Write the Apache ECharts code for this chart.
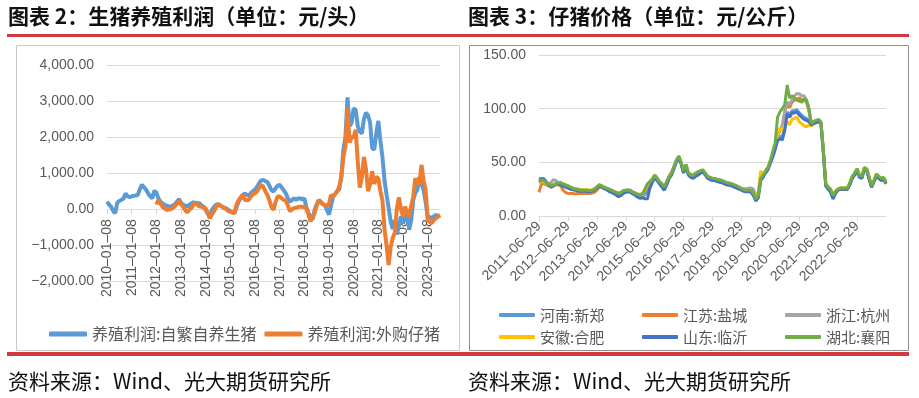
<!DOCTYPE html>
<html>
<head>
<meta charset="utf-8">
<title>生猪养殖利润 / 仔猪价格</title>
<script src="https://cdn.jsdelivr.net/npm/echarts@6/dist/echarts.min.js"></script>
<style>
  * { margin: 0; padding: 0; }
  html, body { width: 919px; height: 398px; background: #fff; overflow: hidden; }
  #main { width: 919px; height: 398px; }
</style>
</head>
<body>
<div id="main"></div>
<script>
// ---- 图表2：生猪养殖利润（元/头），月度 2010-01 ~ 2023-07 ----
var profitMonths = [];
for (var y = 2010; y <= 2023; y++) {
    for (var m = 1; m <= 12; m++) {
        if (y === 2023 && m > 7) break;
        profitMonths.push(y + '-' + (m < 10 ? '0' + m : m));
    }
}
var profitXTicks = ['2010-01-08', '2011-01-08', '2012-01-08', '2013-01-08', '2014-01-08', '2015-01-08', '2016-01-08',
    '2017-01-08', '2018-01-08', '2019-01-08', '2020-01-08', '2021-01-08', '2022-01-08', '2023-01-08'];
var profitYTicks = [-2000, -1000, 0, 1000, 2000, 3000, 4000];
var profitYLabels = ['−2,000.00', '−1,000.00', '0.00', '1,000.00', '2,000.00', '3,000.00', '4,000.00'];

// 养殖利润:自繁自养生猪
var selfBred = [
    210, 130, 70, -50, -110, 180, 230, 260, 290, 440, 360, 330,
    360, 370, 380, 400, 560, 680, 610, 540, 440, 360, 300, 510,
    460, 300, 210, 160, 120, 100, 80, 70, 100, 140, 200, 280,
    180, 120, 100, 70, 120, 160, 190, 180, 170, 160, 100, 70,
    -20, -120, -200, -30, 60, 120, 140, 100, 70, 40, 20, -20,
    -60, -90, -110, 50, 210, 300, 380, 440, 400, 370, 450, 500,
    540, 620, 720, 800, 810, 780, 760, 650, 530, 490, 580, 650,
    680, 600, 520, 440, 300, 200, 260, 300, 260, 300, 300, 270,
    300, 50, -100, -220, -290, -20, 120, 250, 200, 140, 120, -20,
    -150, 100, 350, 420, 500, 560, 900, 1650, 2000, 3100, 2300, 2400,
    2800, 2750, 2300, 2150, 2100, 2500, 2680, 2600, 2400, 1700, 1650, 2100,
    2450, 1900, 1450, 800, 400, 50, -350, -550, -300, -700, -450, -200,
    -390, -250, -110, -570, -300, 260, 450, 540, 900, 700, 540, 200,
    -200, -220, -250, -200, -160, -200, -180
];
// 养殖利润:外购仔猪（2012 年起）
var boughtPiglet = [
    null, null, null, null, null, null, null, null, null, null, null, null,
    null, null, null, null, null, null, null, null, null, null, null, null,
    130, 250, 160, 70, 20, -20, -10, 0, 40, 80, 150, 220,
    140, 70, -20, -90, -20, 30, 120, 180, 120, 80, 70, 40,
    20, -100, -250, -150, -60, 60, 140, 110, 70, 40, 0, -50,
    -70, -90, -110, 120, 250, 330, 400, 260, 250, 260, 350, 420,
    440, 490, 580, 670, 630, 500, 400, 250, 60, -20, 200, 350,
    350, 300, 260, 240, 100, -60, 0, 30, 40, 60, 70, 70,
    50, 30, -150, -340, -200, -110, 100, 260, 200, 140, 110, 80,
    160, 390, 360, 420, 490, 630, 900, 1460, 1750, 2800, 1850, 2000,
    2000, 2200, 1300, 600, 900, 1450, 1100, 500, 700, 1050, 700, 900,
    850, 500, 250, -550, -1000, -1550, -1050, -800, -650, 0, 330, 0,
    -200, 70, -100, -200, 100, 350, 860, 700, 720, 1230, 800, 540,
    -300, -350, -390, -300, -250, -200, -160
];

// ---- 图表3：仔猪价格（元/公斤），月度 2011-06 ~ 2023-06 ----
var priceMonths = [];
for (var y2 = 2011; y2 <= 2023; y2++) {
    for (var m2 = 1; m2 <= 12; m2++) {
        if ((y2 === 2011 && m2 < 6) || (y2 === 2023 && m2 > 6)) continue;
        priceMonths.push(y2 + '-' + (m2 < 10 ? '0' + m2 : m2));
    }
}
var priceXTicks = ['2011-06-29', '2012-06-29', '2013-06-29', '2014-06-29', '2015-06-29', '2016-06-29',
    '2017-06-29', '2018-06-29', '2019-06-29', '2020-06-29', '2021-06-29', '2022-06-29'];
var priceYTicks = [0, 50, 100, 150];
var priceYLabels = ['0.00', '50.00', '100.00', '150.00'];

var henan = [
    35, 35, 35, 32, 30, 28, 29,
    30, 30, 29.5, 28.5, 27.5, 26.5, 25.5, 25, 24.5, 24, 23.5, 23.5,
    23.5, 23.5, 23, 23.5, 24.5, 26.5, 28.5, 27.5, 26, 25, 24, 23,
    22, 20.5, 19.5, 20.5, 22, 23, 23, 22.5, 21, 20, 18.5, 17.5,
    18.5, 20, 24, 29, 32, 37, 34, 31, 28, 25, 30, 36,
    39, 45, 51, 55, 49, 41, 47, 39, 37, 36, 38, 39,
    41, 42, 39, 36, 35, 34, 34, 33, 32, 31.5, 30.5, 29.5,
    29, 28.5, 27.5, 26.5, 25.5, 24.5, 23.5, 23, 23, 22.5, 19.5, 14,
    18, 34, 37, 41, 44, 50, 56, 63, 72, 74, 74, 84,
    97, 94, 98, 98, 99, 96, 94, 92, 91, 89, 86, 87,
    88, 89, 87, 60, 28, 25, 23, 16, 21, 24, 25, 25,
    25, 25, 30, 36, 39, 43, 37, 36, 44, 43, 35, 27,
    32, 38, 36, 34, 35, 33
];
var jiangsu = [
    22, 30, 30, 29, 28, 27, 28,
    29, 29, 28, 24, 22, 21, 21, 21, 20.5, 21, 21, 21,
    21, 21, 21, 21.5, 22, 24, 27, 27, 26, 25, 25, 24,
    23, 22, 20, 21, 22.5, 23, 23, 22.5, 21, 20, 19, 18.5,
    20, 23, 28, 31, 33, 36, 34, 31, 28, 25, 30, 36,
    39, 45, 51, 54, 49, 41, 47, 39, 36, 36, 38, 40,
    41, 42, 39, 36, 35, 34, 34, 33, 32, 31, 30, 29,
    29, 28.5, 28, 27, 26, 25, 24, 23.5, 23.5, 23.5, 21, 17,
    20, 37, 38, 41, 44, 50, 58, 66, 75, 80, 82, 97,
    104, 101, 106, 108, 109, 110, 108, 109, 106, 98, 86, 87,
    88, 89, 87, 60, 29, 26, 24, 18, 22, 24, 25, 25,
    25, 25, 30, 36, 39, 43, 37, 36, 44, 43, 35, 27,
    32, 38, 36, 34, 35, 30
];
var zhejiang = [
    31, 32, 32, 31, 30, 31, 34,
    33, 31, 30, 29.5, 29, 28, 27, 26, 25.5, 25, 24.5, 24,
    24, 24, 23.5, 24, 25, 27, 29, 28, 27, 26, 25, 24,
    23, 22, 21, 22, 23.5, 24, 24.5, 24, 22.5, 21.5, 20.5, 20,
    21, 25, 30, 32, 35, 38, 36, 32, 30, 28, 32, 37,
    41, 46, 52, 55, 50, 42, 48, 40, 39, 38, 40, 41,
    42, 43, 40, 37, 36, 35, 35, 34, 33.5, 33, 32, 31,
    30.5, 30, 29, 28, 27, 26, 25.5, 25.5, 26, 26, 25, 19,
    21, 36, 38, 42, 45, 50, 56, 64, 74, 80, 85, 98,
    106, 104, 108, 112, 114, 114, 112, 112, 108, 100, 87, 88,
    89, 89, 87, 61, 29, 26, 24, 18.5, 22, 24, 25.5, 25.5,
    25.5, 25.5, 30, 36.5, 39.5, 43.5, 37.5, 36.5, 44.5, 43.5, 35.5, 27.5,
    32.5, 38.5, 36.5, 34.5, 35.5, 31
];
var anhui = [
    31, 32, 32, 30, 29, 28, 29,
    30, 31, 31, 30, 29, 28, 27, 26, 25, 25, 24.5, 24.5,
    24.5, 24.5, 24, 24.5, 25.5, 27, 29, 28, 27, 26, 25, 24,
    23, 22, 21, 21.5, 23, 23.5, 23.5, 23, 21.5, 20.5, 19.5, 19,
    20.5, 24, 29, 31.5, 34, 38, 35, 31, 29, 26, 31, 36,
    40, 45, 51, 55, 49, 41, 47, 39, 37, 37, 39, 40,
    41, 42, 39, 36, 35, 34, 34, 33, 32.5, 32, 31, 30,
    29.5, 29, 28, 27, 26, 24.5, 24, 23.5, 23.5, 23, 20, 16,
    22, 42, 39, 42, 45, 51, 57, 65, 76, 82, 80, 84,
    88, 85, 90, 91, 92, 88, 86, 84, 83, 85, 84, 86,
    87, 88, 86, 60, 31, 27, 25, 19, 23, 25, 26, 26,
    26, 26, 31, 37, 40, 44, 38, 37, 45, 44, 36, 28,
    33, 39, 37, 35, 36, 31
];
var shandong = [
    33, 34, 34, 31, 29, 27, 28,
    30, 30, 29, 28, 27, 26, 25, 24.5, 24, 23.5, 23, 23,
    23, 23, 22.5, 23, 24, 26, 28, 27, 25.5, 24.5, 23, 22,
    21, 19.5, 18, 19, 21, 22, 22.5, 22, 20.5, 19, 17.5, 16.5,
    17, 16, 16, 26, 31, 36, 33, 30, 27, 24, 29, 35,
    38, 44, 50, 55, 48, 40, 46, 38, 36, 35, 37, 38,
    40, 41, 38, 35, 34, 33, 33, 32, 31.5, 31, 30, 29,
    28.5, 28, 27, 26, 25, 24, 23, 22.5, 22.5, 22, 19, 14,
    17, 33, 36, 40, 43, 49, 55, 62, 70, 72, 71, 80,
    95, 92, 96, 96, 97, 94, 92, 90, 89, 88, 85, 86,
    87, 88, 86, 59, 28, 25, 22, 16, 21, 24, 25, 25,
    25, 25, 29, 35, 38, 42, 36, 35, 43, 42, 34, 27,
    32, 37, 35, 33, 34, 30
];
var hubei = [
    32, 33, 33, 31, 30, 28, 29,
    30, 31, 31, 30, 29, 28, 27, 26, 25, 25, 24, 24,
    24, 24, 23.5, 24, 25, 27, 29, 28, 27, 26, 25, 24,
    23, 22, 21, 22, 23.5, 24, 24, 23.5, 22, 21, 20, 19.5,
    21, 25, 30, 32, 34, 38, 35, 32, 30, 27, 32, 37,
    40, 46, 52, 56, 50, 42, 48, 40, 38, 38, 40, 41,
    42, 43, 40, 37, 36, 35, 35, 34, 33.5, 33, 32, 31,
    30.5, 30, 29, 28, 27, 25.5, 24.5, 24, 24, 24, 21, 16,
    19, 35, 38, 42, 45, 52, 60, 68, 92, 97, 100, 104,
    122, 110, 112, 110, 108, 107, 106, 109, 108, 100, 86, 88,
    89, 90, 88, 62, 30, 27, 25, 19, 23, 25, 26, 26,
    26, 26, 31, 37, 40, 44, 38, 37, 45, 44, 36, 28,
    33, 39, 37, 35, 36, 31
];

var cjk = 'Noto Sans CJK SC';
var num = 'Liberation Sans';
var axisGray = '#d9d9d9';
var labelGray = '#595959';
var red = '#d23a3f';

var chart = echarts.init(document.getElementById('main'));

function lineSeries(name, data, color, width, xi) {
    return {
        name: name, type: 'line', data: data,
        xAxisIndex: xi, yAxisIndex: xi,
        showSymbol: false, symbol: 'none', connectNulls: false,
        lineStyle: { color: color, width: width },
        itemStyle: { color: color }
    };
}

function priceLegend(left, names) {
    return {
        orient: 'vertical', left: left, top: 307, padding: 0,
        itemWidth: 36, itemHeight: 4, itemGap: 6, icon: 'roundRect',
        data: names,
        textStyle: { fontFamily: cjk, fontSize: 15, color: labelGray, lineHeight: 16 }
    };
}

chart.setOption({
    backgroundColor: '#fff',
    animation: false,
    title: [
        { text: '图表 2：生猪养殖利润（单位：元/头）', left: 8, top: 6, padding: 0,
          textStyle: { fontFamily: cjk, fontSize: 21, fontWeight: 'bold', color: '#111' } },
        { text: '图表 3：仔猪价格（单位：元/公斤）', left: 468, top: 6, padding: 0,
          textStyle: { fontFamily: cjk, fontSize: 21, fontWeight: 'bold', color: '#111' } },
        { text: '资料来源：Wind、光大期货研究所', left: 8, top: 371, padding: 0,
          textStyle: { fontFamily: cjk, fontSize: 21, fontWeight: 'normal', color: '#111' } },
        { text: '资料来源：Wind、光大期货研究所', left: 468, top: 371, padding: 0,
          textStyle: { fontFamily: cjk, fontSize: 21, fontWeight: 'normal', color: '#111' } }
    ],
    graphic: [
        { type: 'rect', silent: true, shape: { x: 7, y: 34, width: 902, height: 3 }, style: { fill: red } },
        { type: 'rect', silent: true, shape: { x: 7, y: 352, width: 902, height: 4 }, style: { fill: red } },
        { type: 'rect', silent: true, shape: { x: 16.5, y: 45.5, width: 443, height: 305 },
          style: { fill: 'none', stroke: '#c9c9c9', lineWidth: 1 } },
        { type: 'rect', silent: true, shape: { x: 469.5, y: 45.5, width: 439, height: 305 },
          style: { fill: 'none', stroke: '#8e8e8e', lineWidth: 1 } }
    ],
    legend: [
        {
            left: 49, top: 326, padding: 0, itemWidth: 38, itemHeight: 5, itemGap: 8, icon: 'roundRect',
            data: ['养殖利润:自繁自养生猪', '养殖利润:外购仔猪'],
            textStyle: { fontFamily: cjk, fontSize: 16, color: labelGray }
        },
        priceLegend(499, ['河南:新郑', '安徽:合肥']),
        priceLegend(642, ['江苏:盐城', '山东:临沂']),
        priceLegend(785, ['浙江:杭州', '湖北:襄阳'])
    ],
    grid: [
        { left: 107, top: 65, width: 333, height: 216.3 },
        { left: 539, top: 55, width: 347, height: 161 }
    ],
    xAxis: [
        {
            // 轴放在 0 值处：从底部上移 2000 对应的高度
            gridIndex: 0, type: 'category', data: profitMonths, boundaryGap: false,
            position: 'bottom', offset: -72.1,
            axisLine: { onZero: false, lineStyle: { color: axisGray } },
            axisTick: { interval: function (i) { return i % 12 === 0; }, length: 5, lineStyle: { color: axisGray } },
            axisLabel: {
                interval: function (i) { return i % 12 === 0; },
                formatter: function (v, i) { return profitXTicks[Math.round(i / 12)].replace(/-/g, '–'); },
                rotate: 90, margin: 10, fontFamily: num, fontSize: 14, color: labelGray
            },
            splitLine: { show: false }
        },
        {
            gridIndex: 1, type: 'category', data: priceMonths, boundaryGap: false,
            axisLine: { lineStyle: { color: axisGray } },
            axisTick: { interval: function (i) { return i % 12 === 0 && i < 144; }, length: 5, lineStyle: { color: axisGray } },
            axisLabel: {
                interval: function (i) { return i % 12 === 0 && i < 144; },
                formatter: function (v, i) { return priceXTicks[Math.round(i / 12)].replace(/-/g, '–'); },
                rotate: 45, margin: 8, fontFamily: num, fontSize: 14, color: labelGray
            },
            splitLine: { show: false }
        }
    ],
    yAxis: [
        {
            gridIndex: 0, type: 'value', min: -2000, max: 4000, interval: 1000,
            axisLine: { show: false }, axisTick: { show: false },
            splitLine: { lineStyle: { color: axisGray } },
            axisLabel: {
                margin: 13, fontFamily: num, fontSize: 14, color: labelGray,
                formatter: function (v) { return profitYLabels[profitYTicks.indexOf(v)]; }
            }
        },
        {
            gridIndex: 1, type: 'value', min: 0, max: 150, interval: 50,
            axisLine: { show: false }, axisTick: { show: false },
            splitLine: { lineStyle: { color: axisGray } },
            axisLabel: {
                margin: 13, fontFamily: num, fontSize: 14, color: labelGray,
                formatter: function (v) { return priceYLabels[priceYTicks.indexOf(v)]; }
            }
        }
    ],
    series: [
        lineSeries('养殖利润:自繁自养生猪', selfBred, '#5b9bd5', 4, 0),
        lineSeries('养殖利润:外购仔猪', boughtPiglet, '#ed7d31', 4, 0),
        lineSeries('河南:新郑', henan, '#5b9bd5', 3, 1),
        lineSeries('江苏:盐城', jiangsu, '#ed7d31', 3, 1),
        lineSeries('浙江:杭州', zhejiang, '#a5a5a5', 3, 1),
        lineSeries('安徽:合肥', anhui, '#ffc000', 3, 1),
        lineSeries('山东:临沂', shandong, '#4472c4', 3, 1),
        lineSeries('湖北:襄阳', hubei, '#70ad47', 3, 1)
    ]
});
</script>
</body>
</html>
